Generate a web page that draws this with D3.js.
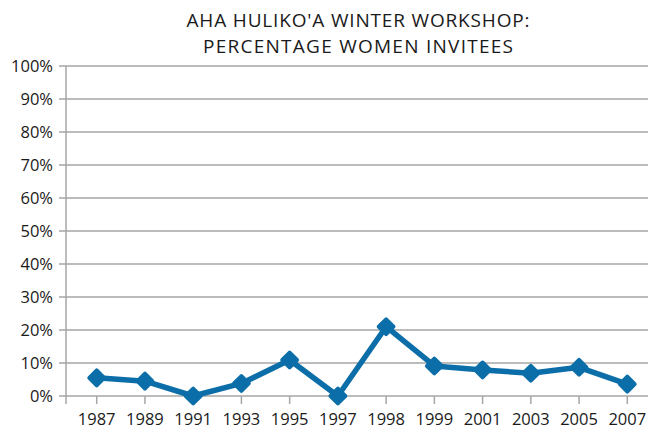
<!DOCTYPE html>
<html>
<head>
<meta charset="utf-8">
<script src="https://cdn.jsdelivr.net/npm/d3@7"></script>
<style>
	body { margin: 0; background: #fff; }
	svg text { font-family: "Open Sans", "Lato", sans-serif; fill: #1a1a1a; }
</style>
</head>
<body>
<div id="chart"></div>
<script>
var years = ["1987", "1989", "1991", "1993", "1995", "1997", "1998", "1999", "2001", "2003", "2005", "2007"];
var percentWomen = [5.5, 4.5, 0, 3.8, 10.9, 0, 21, 9.1, 7.9, 6.9, 8.7, 3.6];
var yTicks = [0, 10, 20, 30, 40, 50, 60, 70, 80, 90, 100];
var titleLines = ["AHA HULIKO'A WINTER WORKSHOP:", "PERCENTAGE WOMEN INVITEES"];

var width = 650, height = 429;
var margins = { left: 66, right: 2, top: 66, bottom: 33 };
var blue = "#0b6ea8";

var svg = d3.select("#chart")
	.append("svg")
	.attr("width", width)
	.attr("height", height);

var x = d3.scalePoint()
	.domain(years)
	.range([margins.left + 30.7, width - margins.right - 20.7]);

var y = d3.scaleLinear()
	.domain([0, 100])
	.range([height - margins.bottom, margins.top]);

// gridlines
svg.append("g")
	.selectAll("line")
	.data(yTicks)
	.join("line")
	.attr("x1", margins.left - 7)
	.attr("x2", width - margins.right)
	.attr("y1", function(d) { return y(d); })
	.attr("y2", function(d) { return y(d); })
	.style("stroke", "#a6a6a6")
	.style("stroke-width", 1.5);

// y axis line
svg.append("line")
	.attr("x1", margins.left)
	.attr("x2", margins.left)
	.attr("y1", y(100))
	.attr("y2", y(0) + 8)
	.style("stroke", "#a6a6a6")
	.style("stroke-width", 1.5);

// x ticks
svg.append("g")
	.selectAll("line")
	.data(years)
	.join("line")
	.attr("x1", function(d) { return x(d); })
	.attr("x2", function(d) { return x(d); })
	.attr("y1", y(0))
	.attr("y2", y(0) + 8)
	.style("stroke", "#a6a6a6")
	.style("stroke-width", 1.5);

// y labels
svg.append("g")
	.selectAll("text")
	.data(yTicks)
	.join("text")
	.attr("x", margins.left - 13)
	.attr("y", function(d) { return y(d); })
	.attr("dy", "0.36em")
	.attr("text-anchor", "end")
	.style("font-size", "16.5px")
	.text(function(d) { return d + "%"; });

// x labels
svg.append("g")
	.selectAll("text")
	.data(years)
	.join("text")
	.attr("x", function(d) { return x(d); })
	.attr("y", y(0) + 29)
	.attr("text-anchor", "middle")
	.style("font-size", "16.5px")
	.text(function(d) { return d; });

// line
var line = d3.line()
	.x(function(d, i) { return x(years[i]); })
	.y(function(d) { return y(d); });

svg.append("path")
	.datum(percentWomen)
	.attr("d", line)
	.style("fill", "none")
	.style("stroke", blue)
	.style("stroke-width", 5.5)
	.style("stroke-linejoin", "round");

// markers
svg.append("g")
	.selectAll("path")
	.data(percentWomen)
	.join("path")
	.attr("transform", function(d, i) { return "translate(" + x(years[i]) + "," + y(d) + ")"; })
	.attr("d", d3.symbol().type(d3.symbolDiamond2).size(140))
	.style("fill", blue)
	.style("stroke", blue)
	.style("stroke-width", 4)
	.style("stroke-linejoin", "round");

// title
svg.append("g")
	.selectAll("text")
	.data(titleLines)
	.join("text")
	.attr("x", 358)
	.attr("y", function(d, i) { return 26.5 + i * 26; })
	.attr("text-anchor", "middle")
	.style("font-size", "19px")
	.attr("textLength", function(d, i) { return i === 0 ? 343 : 310; })
	.attr("lengthAdjust", "spacing")
	.text(function(d) { return d; });
</script>
</body>
</html>
